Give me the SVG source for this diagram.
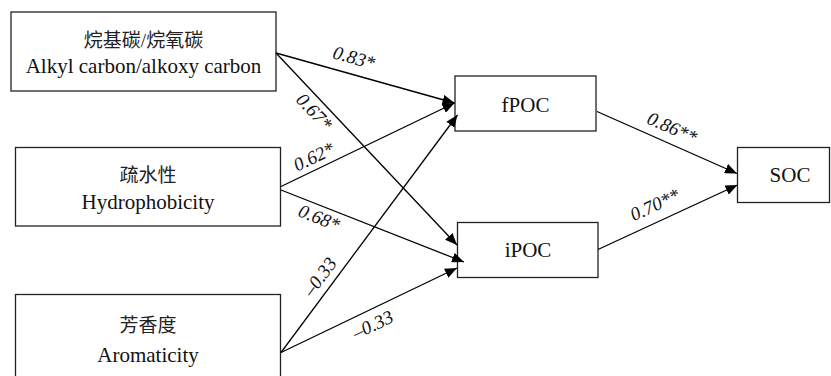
<svg xmlns="http://www.w3.org/2000/svg" width="831" height="376" viewBox="0 0 831 376">
<defs>
<style>
.box{fill:#fff;stroke:#222;stroke-width:1.3}
.t{font-family:'Liberation Serif',serif;font-size:21px;fill:#111;text-anchor:middle}
.cj{font-family:'Liberation Serif','Noto Sans CJK SC',serif;font-size:19px;fill:#222;text-anchor:middle}
.e{fill:none;stroke:#000;stroke-width:1.3}
.lb{font-family:'Liberation Serif',serif;font-style:italic;font-size:19px;fill:#111;text-anchor:middle}
</style>
<marker id="ah" markerUnits="userSpaceOnUse" markerWidth="13" markerHeight="10" refX="12" refY="5" orient="auto">
<path d="M0,0 L12,5 L0,10 Z" fill="#000"/>
</marker>
</defs>
<rect width="831" height="376" fill="#fff"/>
<g id="alkyl">
<rect class="box" x="11" y="12" width="265" height="79"/>
<text class="cj" x="143.5" y="47">烷基碳/烷氧碳</text>
<text class="t" x="143.5" y="73">Alkyl carbon/alkoxy carbon</text>
</g>
<g id="hydro">
<rect class="box" x="15.5" y="147.5" width="265" height="78.5"/>
<text class="cj" x="148" y="182">疏水性</text>
<text class="t" x="148" y="209">Hydrophobicity</text>
</g>
<g id="arom">
<rect class="box" x="15.5" y="294.5" width="265" height="90"/>
<text class="cj" x="148" y="332">芳香度</text>
<text class="t" x="148" y="362">Aromaticity</text>
</g>
<g id="fpoc">
<rect class="box" x="455" y="76" width="141" height="55"/>
<text class="t" x="525.5" y="112">fPOC</text>
</g>
<g id="ipoc">
<rect class="box" x="457.5" y="222.5" width="140.5" height="55"/>
<text class="t" x="528" y="257">iPOC</text>
</g>
<g id="soc">
<rect class="box" x="737.5" y="147.5" width="92" height="55"/>
<text class="t" x="790" y="182">SOC</text>
</g>
<g id="connectors">
<line class="e" x1="276" y1="53" x2="454.5" y2="103" marker-end="url(#ah)"/>
<line class="e" x1="276" y1="53" x2="457" y2="245" marker-end="url(#ah)"/>
<line class="e" x1="281" y1="186.5" x2="454.5" y2="103" marker-end="url(#ah)"/>
<line class="e" x1="281" y1="190" x2="464" y2="262" marker-end="url(#ah)"/>
<line class="e" x1="281" y1="352.5" x2="457.5" y2="115" marker-end="url(#ah)"/>
<line class="e" x1="281" y1="352.5" x2="457" y2="268" marker-end="url(#ah)"/>
<line class="e" x1="597" y1="111.5" x2="737" y2="173.5" marker-end="url(#ah)"/>
<line class="e" x1="598" y1="249.5" x2="737.5" y2="185" marker-end="url(#ah)"/>
<text class="lb" transform="translate(354,58) rotate(15.7)" y="6">0.83*</text>
<text class="lb" transform="translate(314,112) rotate(46.7)" y="6">0.67*</text>
<text class="lb" transform="translate(314,157) rotate(-25.6)" y="6">0.62*</text>
<text class="lb" transform="translate(319,218) rotate(21.5)" y="6">0.68*</text>
<text class="lb" transform="translate(320,277) rotate(-53.4)" y="6">–0.33</text>
<text class="lb" transform="translate(373,325) rotate(-25.5)" y="6">–0.33</text>
<text class="lb" transform="translate(672,128) rotate(23.7)" y="6">0.86**</text>
<text class="lb" transform="translate(655,205) rotate(-24.7)" y="6">0.70**</text>
</g>
</svg>
